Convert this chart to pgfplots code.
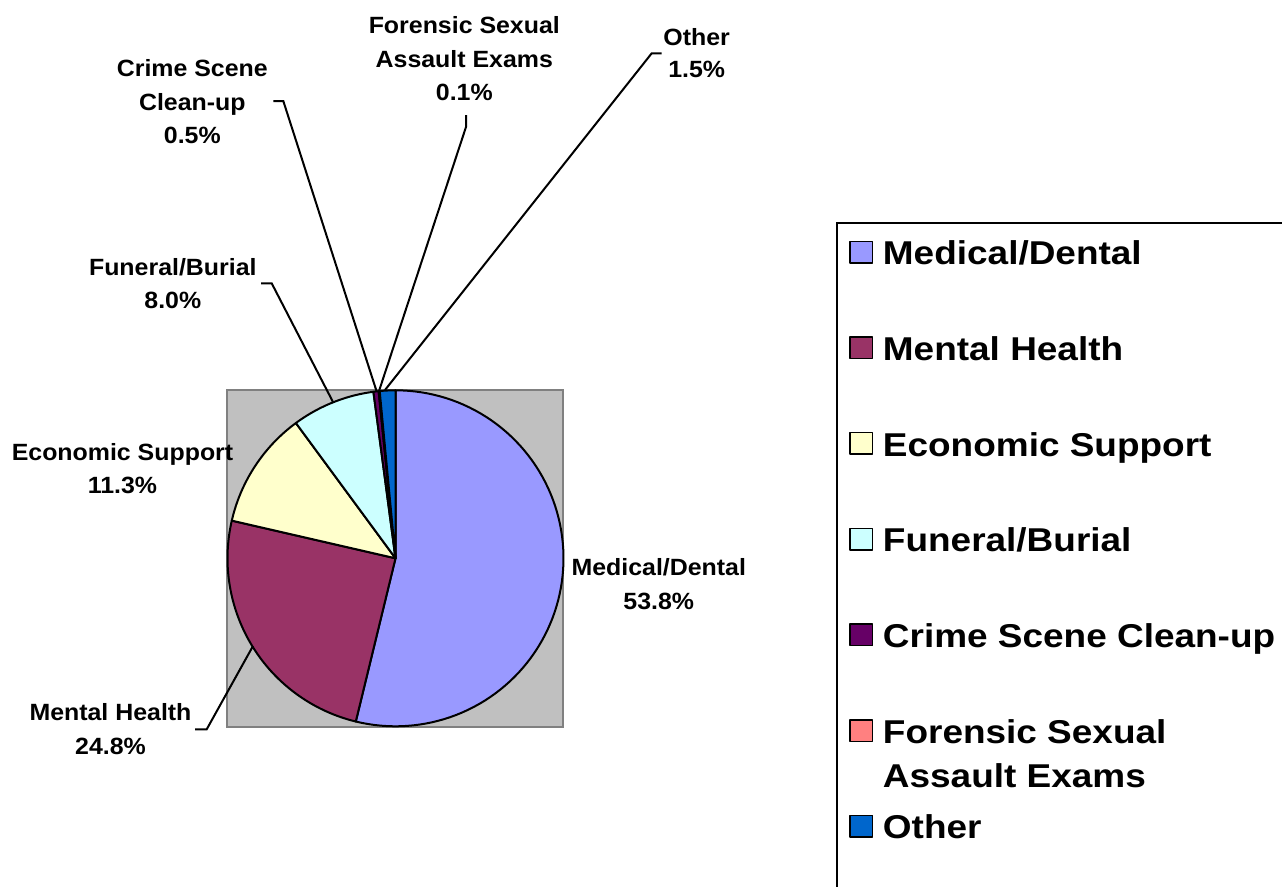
\documentclass[border=0pt]{standalone}
\usepackage{fontspec}
\setmainfont{Liberation Sans}
\usepackage{graphicx}
\usepackage{pgfplots}
\pgfplotsset{compat=1.18}
\definecolor{cMed}{HTML}{9999FF}
\definecolor{cMen}{HTML}{993366}
\definecolor{cEco}{HTML}{FFFFCC}
\definecolor{cFun}{HTML}{CCFFFF}
\definecolor{cCri}{HTML}{660066}
\definecolor{cFor}{HTML}{FF8080}
\definecolor{cOth}{HTML}{0066CC}
\definecolor{areagray}{HTML}{C0C0C0}
\definecolor{bordergray}{HTML}{808080}
% shares in percent
\def\pMed{53.8}\def\pMen{24.8}\def\pEco{11.3}\def\pFun{8.0}\def\pCri{0.5}\def\pFor{0.1}\def\pOth{1.5}
\def\pieCX{395.5}\def\pieCY{558.3}\def\pieR{168}
% #1 colour, #2 cumulative share before slice, #3 share
\newcommand{\slice}[3]{%
  \addplot[fill=#1, draw=black, line width=2pt, line join=round,
    domain={90-3.6*(#2)}:{90-3.6*(#2+#3)}, samples=90]
    ({\pieCX+\pieR*cos(x)},{\pieCY-\pieR*sin(x)}) -- (axis cs:\pieCX,\pieCY) -- cycle;}
\newcommand{\lgtext}[1]{\scalebox{1.12}[1]{#1}}
\newcommand{\lbtext}[1]{\scalebox{1.06}[1]{#1}}
\tikzset{lbl/.style={font=\fontsize{23.5}{33.5}\selectfont\bfseries, anchor=base, inner sep=0pt}}
\begin{document}
\begin{tikzpicture}
\begin{axis}[at={(0,0)}, anchor=south west, scale only axis,
  width=1282pt, height=886pt, xmin=0, xmax=1282, ymin=0, ymax=886,
  y dir=reverse, hide axis, clip=false,
  legend image code/.code={\draw[#1,draw=black,line width=1.5pt] (0.8pt,2pt) rectangle (23.5pt,23.5pt);},
  legend style={draw=black, line width=1.5pt, fill=white,
    at={(axis cs:836,222)}, anchor=north west,
    inner xsep=12.5pt, inner ysep=0pt, row sep=0pt, column sep=9.5pt,
    nodes={inner sep=0pt, text height=42pt, text depth=53.7pt},
    cells={anchor=base west},
    font=\fontsize{33}{44}\selectfont\bfseries},
  legend columns=1,
]
\addplot[fill=areagray, draw=bordergray, line width=1.5pt, forget plot]
  coordinates {(227,390) (563,390) (563,727) (227,727)} -- cycle;
\slice{cMed}{0}{\pMed}
\addlegendentry{\lgtext{Medical/Dental}}
\slice{cMen}{\pMed}{\pMen}
\addlegendentry{\lgtext{Mental Health}}
\slice{cEco}{\pMed+\pMen}{\pEco}
\addlegendentry{\lgtext{Economic Support}}
\slice{cFun}{\pMed+\pMen+\pEco}{\pFun}
\addlegendentry{\lgtext{Funeral/Burial}}
\slice{cCri}{\pMed+\pMen+\pEco+\pFun}{\pCri}
\addlegendentry{\lgtext{Crime Scene Clean-up}}
\slice{cFor}{\pMed+\pMen+\pEco+\pFun+\pCri}{\pFor}
\addlegendentry{\lgtext{\smash{\begin{tabular}[t]{@{}l@{}}Forensic Sexual\\Assault Exams\end{tabular}}}}
\slice{cOth}{\pMed+\pMen+\pEco+\pFun+\pCri+\pFor}{\pOth}
\addlegendentry{\lgtext{Other}}
% leader lines
\addplot[black, line width=2pt, forget plot] coordinates {(195,729.3) (206.7,729.3) (253,646)};
\addplot[black, line width=2pt, forget plot] coordinates {(261,283.3) (271.7,283.3) (333,402)};
\addplot[black, line width=2pt, forget plot] coordinates {(273.3,101) (283.3,101) (376.5,391)};
\addplot[black, line width=2pt, forget plot] coordinates {(466,115) (466,127) (379,391)};
\addplot[black, line width=2pt, forget plot] coordinates {(661.7,53.3) (651.7,53.3) (385,390)};
% data labels
\node[lbl] at (axis cs:658.8,575) {\lbtext{Medical/Dental}};
\node[lbl] at (axis cs:658.8,609) {\lbtext{53.8\%}};
\node[lbl] at (axis cs:110.5,720.7) {\lbtext{Mental Health}};
\node[lbl] at (axis cs:110.5,754) {\lbtext{24.8\%}};
\node[lbl] at (axis cs:122.5,460.7) {\lbtext{Economic Support}};
\node[lbl] at (axis cs:122.5,493.5) {\lbtext{11.3\%}};
\node[lbl] at (axis cs:172.8,275) {\lbtext{Funeral/Burial}};
\node[lbl] at (axis cs:172.8,308) {\lbtext{8.0\%}};
\node[lbl] at (axis cs:192.3,76) {\lbtext{Crime Scene}};
\node[lbl] at (axis cs:192.3,110) {\lbtext{Clean-up}};
\node[lbl] at (axis cs:192.3,143) {\lbtext{0.5\%}};
\node[lbl] at (axis cs:464.3,33.3) {\lbtext{Forensic Sexual}};
\node[lbl] at (axis cs:464.3,67.5) {\lbtext{Assault Exams}};
\node[lbl] at (axis cs:464.3,100.5) {\lbtext{0.1\%}};
\node[lbl] at (axis cs:696.7,45) {\lbtext{Other}};
\node[lbl] at (axis cs:696.7,77) {\lbtext{1.5\%}};
\end{axis}
\pgfresetboundingbox
\path[use as bounding box] (0,0) rectangle (1282pt,886pt);
\end{tikzpicture}
\end{document}
